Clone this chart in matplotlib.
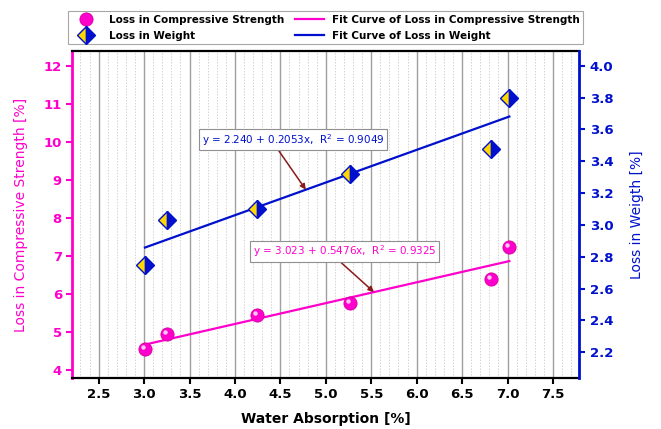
import matplotlib

matplotlib.use("Agg")
import matplotlib.pyplot as plt
import numpy as np
from matplotlib.ticker import MultipleLocator

# water absorption of each mix [%]
water_abs = [3.01, 3.25, 4.24, 5.27, 6.82, 7.02]
# loss in compressive strength [%] (left axis)
loss_cs = [4.55, 4.95, 5.45, 5.77, 6.39, 7.23]
# loss in weight [%] (right axis)
loss_wt = [2.75, 3.03, 3.10, 3.32, 3.48, 3.80]

# linear fits: intercept, slope, R^2
fit_cs = (3.023, 0.5476, 0.9325)
fit_wt = (2.240, 0.2053, 0.9049)

PINK = "#ff00cc"
BLUE = "#0010cc"
ARROW = "#8b1a1a"

plt.rcParams["font.family"] = "DejaVu Sans"

fig = plt.figure(figsize=(6.61, 4.29), dpi=100)
ax = fig.add_axes([0.1094, 0.1196, 0.767, 0.7604])
ax2 = ax.twinx()

# -- grid: solid majors every 0.5, dotted minors every 0.1 ------------------
ax.set_xlim(2.21, 7.79)
ax.xaxis.set_major_locator(MultipleLocator(0.5))
ax.xaxis.set_minor_locator(MultipleLocator(0.1))
ax.grid(True, which="major", axis="x", color="#a0a0a0", lw=1.0, ls="-")
ax.grid(True, which="minor", axis="x", color="#d4d4d4", lw=0.7, ls=(0, (1.5, 1.5)))
ax.set_axisbelow(True)

# -- loss in compressive strength (left axis) -------------------------------
xs = np.array([min(water_abs), max(water_abs)])
ax.plot(xs, fit_cs[0] + fit_cs[1] * xs, color=PINK, lw=1.6, zorder=3,
        label="Fit Curve of Loss in Compressive Strength")
ax.plot(water_abs, loss_cs, ls="none", marker="o", ms=9.5, color=PINK,
        mec="#d4009e", mew=0.6, zorder=4, label="Loss in Compressive Strength")
# highlight to give the spheres some shine
ax.plot(water_abs, loss_cs, ls="none", marker="o", ms=3.2, color="#ffc8f2",
        mew=0, zorder=5, transform=ax.transData
        + matplotlib.transforms.ScaledTranslation(-1.5 / 72, 1.5 / 72,
                                                  fig.dpi_scale_trans))
ax.set_ylim(3.8, 12.38)
ax.yaxis.set_major_locator(MultipleLocator(1))

# -- loss in weight (right axis) --------------------------------------------
ax2.plot(xs, fit_wt[0] + fit_wt[1] * xs, color=BLUE, lw=1.6, zorder=3,
         label="Fit Curve of Loss in Weight")
ax2.plot(water_abs, loss_wt, ls="none", marker="D", ms=9, fillstyle="left",
         mfc="#ffd800", mfcalt=BLUE, mec=BLUE, mew=1.0, zorder=4,
         label="Loss in Weight")
ax2.set_ylim(2.04, 4.09)
ax2.yaxis.set_major_locator(MultipleLocator(0.2))
ax2.yaxis.set_major_formatter(matplotlib.ticker.FormatStrFormatter("%.1f"))

# -- spines and ticks --------------------------------------------------------
for s in ("top", "bottom"):
    ax.spines[s].set_linewidth(1.6)
    ax.spines[s].set_color("black")
    ax2.spines[s].set_visible(False)
ax.spines["left"].set_color(PINK)
ax.spines["left"].set_linewidth(2.0)
ax.spines["right"].set_visible(False)
ax2.spines["left"].set_visible(False)
ax2.spines["right"].set_color(BLUE)
ax2.spines["right"].set_linewidth(2.0)

ax.tick_params(axis="x", which="major", direction="out", length=4, width=1.5,
               labelsize=9.5, color="black")
ax.tick_params(axis="x", which="minor", length=0)
ax.tick_params(axis="y", direction="out", length=4, width=1.5, labelsize=9.5,
               color=PINK, labelcolor=PINK)
ax2.tick_params(axis="y", direction="out", length=4, width=1.5, labelsize=9.5,
                color=BLUE, labelcolor=BLUE)
for lab in ax.get_xticklabels() + ax.get_yticklabels() + ax2.get_yticklabels():
    lab.set_fontweight("bold")

ax.set_xlabel("Water Absorption [%]", fontsize=10, fontweight="bold",
              labelpad=8)
ax.set_ylabel("Loss in Compressive Strength [%]", fontsize=10, color=PINK,
              labelpad=11)
ax2.set_ylabel("Loss in Weigth [%]", fontsize=10, color=BLUE, labelpad=12)

# -- fit equations with arrows ----------------------------------------------
def eq_text(fit):
    return (f"y = {fit[0]:.3f} + {fit[1]:.4f}x,  R$^2$ = {fit[2]:.4f}")

x_tip = 4.78
ax2.annotate(eq_text(fit_wt), xy=(x_tip, fit_wt[0] + fit_wt[1] * x_tip),
             xytext=(4.64, 3.535), ha="center", va="center", fontsize=7.5,
             color=BLUE, zorder=6,
             bbox=dict(boxstyle="square,pad=0.25", fc="white", ec="#909090",
                       lw=0.8),
             arrowprops=dict(arrowstyle="-|>", color=ARROW, lw=1.1,
                             mutation_scale=8, relpos=(0.41, 0.0),
                             shrinkA=0, shrinkB=0))

x_tip = 5.53
ax.annotate(eq_text(fit_cs), xy=(x_tip, fit_cs[0] + fit_cs[1] * x_tip),
            xytext=(5.21, 7.12), ha="center", va="center", fontsize=7.5,
            color=PINK, zorder=6,
            bbox=dict(boxstyle="square,pad=0.25", fc="white", ec="#909090",
                      lw=0.8),
            arrowprops=dict(arrowstyle="-|>", color=ARROW, lw=1.1,
                            mutation_scale=8, relpos=(0.46, 0.0),
                            shrinkA=0, shrinkB=0))

# -- legend above the plot ---------------------------------------------------
h1, l1 = ax.get_legend_handles_labels()
h2, l2 = ax2.get_legend_handles_labels()
handles = [h1[1], h2[1], h1[0], h2[0]]
labels = [l1[1], l2[1], l1[0], l2[0]]
leg = ax2.legend(handles, labels, ncol=2, loc="lower left",
                 bbox_to_anchor=(-0.008, 1.023, 1.016, 0.101), mode="expand",
                 borderaxespad=0, fancybox=False, frameon=True,
                 edgecolor="#909090", handlelength=2.8,
                 columnspacing=1.0, labelspacing=0.6, borderpad=0.3,
                 prop={"weight": "bold", "size": 7.5})
leg.get_frame().set_linewidth(0.8)

fig.savefig("out.png", dpi=100)
